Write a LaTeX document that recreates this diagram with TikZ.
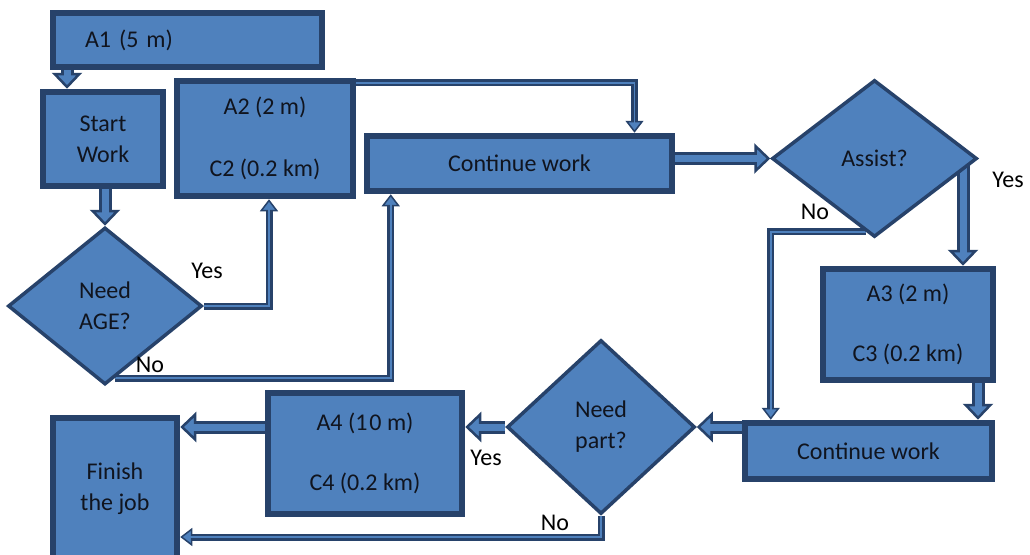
\documentclass[tikz,border=0pt]{standalone}
\usepackage{fontspec}
\setmainfont{Carlito}
\usetikzlibrary{shapes.geometric,arrows.meta,backgrounds}
\definecolor{boxfill}{HTML}{4F81BD}
\definecolor{boxedge}{HTML}{27426A}
\definecolor{ink}{HTML}{10141E}

\begin{document}
\begin{tikzpicture}[x=1pt,y=-1pt,
  every node/.style={font=\fontsize{24}{31}\selectfont, text=ink},
  box/.style={rectangle, draw=boxedge, fill=boxfill, line width=6.5pt, inner sep=0pt, align=center},
  dec/.style={diamond, draw=boxedge, fill=boxfill, line width=3.5pt, inner sep=0pt, align=center},
  lbl/.style={inner sep=0pt, text=black},
  blk/.style={draw=boxedge, line width=13pt,
    -{Triangle[width=30pt,length=16pt,line width=2.5pt,fill=boxfill]},
    postaction={draw=boxfill, line width=7pt, -, shorten >=9pt}},
  elb/.style={draw=boxedge, line width=7pt,
    -{Triangle[width=18pt,length=12pt,line width=1.5pt,fill=boxfill]},
    postaction={draw=boxfill, line width=1.6pt, -, shorten >=6pt}},
]
\useasboundingbox (0,0) rectangle (1030,554);
\clip (0,0) rectangle (1030,554);

% process boxes
\node[box, minimum width=269pt, minimum height=54pt, text width=205pt,
      inner xsep=32pt, align=left] (a1) at (187.5,40) {A1 (5 m)};
\node[box, minimum width=120pt, minimum height=94pt] (start) at (103,139) {Start\\Work};
\node[box, minimum width=176pt, minimum height=115pt] (a2) at (265,138.5) {A2 (2 m)\\[31pt]C2 (0.2 km)};
\node[box, minimum width=305pt, minimum height=55pt] (cont) at (519.5,163.5) {Continue work};
\node[box, minimum width=170pt, minimum height=111pt] (a3) at (908,324.5) {A3 (2 m)\\[29pt]C3 (0.2 km)};
\node[box, minimum width=247pt, minimum height=56pt] (contB) at (868.5,451) {Continue work};
\node[box, minimum width=194pt, minimum height=121pt] (a4) at (365,453.5) {A4 (1\kern2pt0 m)\\[29pt]C4 (0.2 km)};
\node[box, minimum width=124pt, minimum height=142pt] (finish) at (115,489) {Finish\\the job};

% decisions
\node[dec, minimum width=194pt, minimum height=157pt] (needage) at (105,306) {Need\\AGE?};
\node[dec, minimum width=205pt, minimum height=157pt] (assist) at (874.5,158.5) {Assist?};
\node[dec, minimum width=188pt, minimum height=174pt] (needpart) at (601,427) {Need\\part?};

% branch labels
\node[lbl] (yes1) at (207,271) {Yes};
\node[lbl] (no1) at (150,365) {No};
\node[lbl] (no2) at (815,212) {No};
\node[lbl] (yes2) at (1008,180) {Yes};
\node[lbl] (yes3) at (486,458) {Yes};
\node[lbl] (no3) at (555,523) {No};

% connection points
\coordinate (s1) at ([xshift=-36pt]start.north);
\coordinate (a2in) at ([xshift=4pt]a2.south);
\coordinate (contin) at ([xshift=27pt]cont.south west);
\coordinate (a2out) at ([yshift=-5pt]a2.north east);
\coordinate (contA) at ([xshift=115pt]cont.north);
\coordinate (a3in) at ([xshift=55pt]a3.north);
\coordinate (a3out) at ([xshift=70pt]a3.south);
\coordinate (contBin) at ([xshift=29pt]contB.north west);
\coordinate (finin) at ([yshift=-48pt]finish.east);

\begin{pgfonlayer}{background}
  \fill[white] (0,0) rectangle (1030,554);
  % block arrows
  \draw[blk] (s1 |- a1.south) -- (s1);
  \draw[blk] (needage.north |- start.south) -- (needage.north);
  \draw[blk] (cont.east |- assist.west) -- (assist.west);
  \draw[blk] (a3in |- assist.east) -- (a3in);
  \draw[blk] (a3out) -- (a3out |- contB.north);
  \draw[blk] (contB.west |- needpart.east) -- (needpart.east);
  \draw[blk] (needpart.west) -- (needpart.west -| a4.east);
  \draw[blk] (a4.west |- needpart.west) -- (finish.east |- needpart.west);
  % elbow connectors
  \draw[elb] (needage.east) -| (a2in);
  \draw[elb] (needage.-82) -| (contin);
  \draw[elb] (a2out) -| (contA);
  \draw[elb] (assist.-97) -| (contBin);
  \draw[elb] (needpart.south) |- (finin);
\end{pgfonlayer}
\end{tikzpicture}
\end{document}
